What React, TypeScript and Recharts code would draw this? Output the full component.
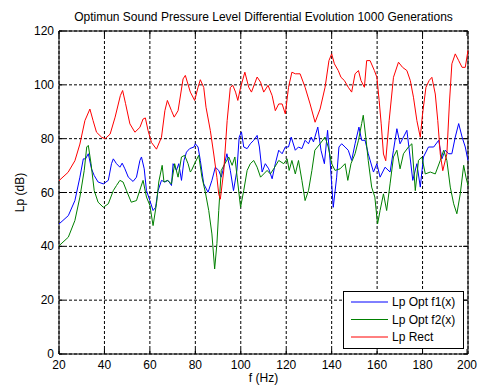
import React from 'react';
import { LineChart, Line, XAxis, YAxis, CartesianGrid, ReferenceArea } from 'recharts';

const titleText = 'Optimun Sound Pressure Level Differential Evolution 1000 Generations';
const xLabel = 'f (Hz)';
const yLabel = 'Lp (dB)';
const seriesNames = ['Lp Opt f1(x)', 'Lp Opt f2(x)', 'Lp Rect'];
const seriesColors = ['#0000ff', '#008000', '#ff0000'];
const xTicks = [20, 40, 60, 80, 100, 120, 140, 160, 180, 200];
const yTicks = [0, 20, 40, 60, 80, 100, 120];

// [frequency Hz, level dB]
const blueCurve: [number, number][] = [
  [20, 48.3], [24.1, 51.4], [27, 57], [29.2, 65.7], [30.7, 72.5], [31.7, 72.5], [32.9, 74.4], [34.3, 68.8],
  [35.5, 66.3], [37.2, 63.9], [39.5, 63.2], [41.7, 64.5], [43.1, 70.7], [43.9, 72.5], [45.3, 70.7], [46.8, 69.4],
  [47.8, 70.9], [49, 68.8], [50.5, 65.7], [52.6, 64.1], [54.1, 65.7], [55.6, 71.9], [56.3, 73.2], [57.5, 68.8],
  [58.5, 60.7], [60, 57], [61.4, 53.3], [62.5, 54.5], [63.6, 60.7], [65.1, 64.5], [66.6, 63.9], [68, 64.5],
  [69.5, 62.6], [70.2, 70.7], [71.7, 68.2], [72.7, 70.7], [73.9, 64.5], [75, 71.9], [76.1, 75], [77.5, 76.3],
  [79.4, 76.9], [80, 78.1], [81.2, 76.9], [82.2, 71.9], [83.7, 63.2], [85.6, 60.1], [87.3, 64.5], [88.8, 69.4],
  [90.3, 68.2], [91.4, 65.7], [92.5, 69.4], [93.9, 74.4], [95.4, 68.2], [96.8, 60.7], [98.3, 68.2], [99.3, 80.6],
  [100.3, 82.5], [101.3, 76.9], [102.8, 76.3], [104.2, 78.1], [105.7, 79.4], [107.2, 81.2], [108.2, 76.9], [109.4, 67.6],
  [110.8, 70.7], [112.3, 68.8], [113.8, 65.1], [115.2, 70.7], [116.7, 75.7], [118.2, 74.4], [119.6, 76.9], [121, 76.9],
  [122.2, 80.6], [124, 75.7], [125.4, 76.9], [126.9, 76.3], [128.3, 79.4], [129.8, 78.1], [131, 80.6], [132, 78.8],
  [133.9, 84.3], [135.3, 75.7], [136.8, 70.7], [138.2, 83.1], [139.3, 71.9], [140.7, 54.5], [142.2, 65.7], [143.2, 76.9],
  [144.4, 78.1], [145.9, 76.9], [147.3, 75.7], [148.8, 71.9], [150.3, 78.1], [152, 84.3], [153.2, 79.4], [154.7, 79.4],
  [156.1, 74.4], [158.4, 67.6], [159.9, 70.7], [161.3, 65.7], [163.5, 69.4], [165.7, 67.6], [167.2, 75.7], [168.7, 83.7],
  [170.1, 78.1], [171.6, 80.6], [173.1, 83.1], [174.5, 73.2], [175.7, 64.5], [177.5, 70.7], [179, 62], [180.4, 73.2],
  [182.6, 76.9], [184.9, 76.9], [187.1, 79.4], [188.5, 72.5], [190, 75.7], [191.5, 74.4], [192.9, 74.4], [194.4, 80.6],
  [195.9, 85.6], [197.4, 80.6], [198.8, 76.9], [200, 71.9],
];

const greenCurve: [number, number][] = [
  [20, 40.2], [24.1, 43.4], [27, 49.6], [29.2, 58.3], [31.1, 68.2], [32.2, 76.9], [32.9, 77.5], [34.1, 70.7],
  [35.5, 60.7], [37.2, 56.4], [39.5, 54.5], [41.7, 55.8], [43.9, 60.7], [45.3, 62.6], [46.8, 64.5], [48.2, 63.9],
  [49.7, 60.7], [51.8, 56.4], [54.1, 57], [56, 62], [57, 64.5], [58.5, 58.3], [60, 55.2], [61.4, 47.7],
  [62.9, 55.8], [63.9, 63.9], [65.4, 70.1], [66.2, 63.9], [67.7, 64.5], [69.5, 63.2], [70.9, 70.7], [72.4, 65.7],
  [73.9, 73.2], [75.3, 73.8], [76.8, 70.7], [77.8, 67.6], [78.3, 68.2], [80, 71.3], [81.5, 73.8], [82.9, 65.7],
  [84.4, 60.1], [85.9, 53.3], [87.3, 44.6], [88.5, 31.6], [89.5, 41], [90.3, 53.3], [91.4, 68.2], [93, 70.7],
  [94.7, 73.2], [96.2, 70.1], [97.4, 73.2], [98.4, 65.7], [99.9, 54.5], [101.3, 60.7], [102.8, 68.2], [104.2, 70.7],
  [105.7, 71.9], [107.2, 69.4], [108.7, 65.7], [110.1, 66.9], [111.6, 68.2], [113, 66.9], [114.5, 68.8], [116.7, 71.9],
  [118.9, 70.7], [120.4, 72.5], [121.3, 68.2], [122.5, 71.9], [124, 66.9], [125.4, 71.9], [126.9, 64.5], [128.3, 57],
  [129.8, 60.7], [131.3, 68.2], [132.6, 75.7], [134.9, 78.1], [137.1, 80.6], [138.5, 76.9], [140, 70.7], [141.5, 68.2],
  [143.7, 68.8], [145.9, 70.7], [147.1, 64.5], [148.5, 70.7], [150.3, 74.4], [151.8, 79.4], [153.2, 85.6], [153.9, 88.7],
  [155, 80.6], [156.1, 71.9], [157.6, 62], [159, 58.3], [160.2, 48.3], [161.3, 53.3], [162.8, 59.5], [164.2, 53.3],
  [165.7, 63.2], [167.2, 73.2], [168.7, 75.7], [170.1, 68.8], [171.6, 74.4], [173.8, 76.9], [175.3, 78.1], [176.8, 60.7],
  [178.2, 71.9], [179.7, 73.2], [181.2, 66.9], [183.4, 67.6], [185.6, 66.9], [187.8, 71.9], [189.3, 75.7], [190.7, 71.9],
  [192.2, 62], [193.7, 55.8], [195.1, 52.1], [196.6, 59.5], [198.1, 70.1], [199.1, 65.7], [200, 62.6],
];

const redCurve: [number, number][] = [
  [20, 64.4], [24, 67.5], [27, 71.8], [29.2, 78], [31.4, 86.7], [33.6, 91], [35, 86.7], [36.5, 82.4],
  [38.8, 80.5], [40.3, 80], [42.5, 81.7], [44.7, 88], [47, 96], [48, 97.9], [49.3, 93], [51.2, 85.5],
  [53.4, 82.4], [55.6, 84.2], [57, 87.3], [58, 87.7], [59.2, 83], [60.7, 78.6], [62.9, 76.1], [65.1, 80.5],
  [66.6, 90.4], [67.7, 94.2], [69.5, 90.4], [70.7, 88], [72.4, 90.4], [74.6, 102.2], [75.6, 103.5], [77.8, 97.3],
  [79.7, 94.2], [81.2, 99.1], [82.2, 101.9], [83.7, 99], [84.7, 91.7], [86.6, 83], [88.1, 74.3], [89.5, 65.6],
  [90.3, 59.4], [91, 57.5], [92.5, 68], [94, 86.7], [95.4, 99], [96.5, 99.8], [97.7, 97.3], [98.7, 94.2],
  [99.9, 99], [101.8, 104.7], [103.5, 99.1], [104.7, 97.3], [107.2, 102.9], [108.7, 101], [110.1, 97.3], [112, 99.8],
  [113.8, 96], [115.2, 90.4], [116.7, 92.9], [118.2, 92.9], [119.6, 89.2], [121, 99], [122.5, 104.7], [124, 104.1],
  [126.1, 104.1], [128.3, 99.1], [130.5, 92.9], [132.7, 86.1], [134.9, 91], [137.1, 99.1], [138.8, 109], [140, 111.5],
  [141.2, 107.8], [142.9, 105.3], [144.1, 102.8], [145.6, 101.6], [147.3, 99.1], [148.8, 97.3], [150.3, 104.1], [151.8, 105.3],
  [152.9, 101.6], [154.4, 99.1], [155.4, 109], [156.9, 109], [158.8, 105.3], [159.9, 102.8], [160.9, 94.2], [161.8, 85.5],
  [162.8, 74.3], [163.8, 71.8], [165.3, 86.7], [167.2, 102.8], [169.4, 108.4], [171.2, 106.5], [173.1, 105.3], [174.6, 101.6],
  [176, 95.4], [177.5, 86.7], [179, 80.5], [180, 89.2], [181.5, 99.1], [182.9, 101.6], [184.1, 102.8], [185.6, 96.6],
  [186.7, 86.7], [187.8, 74.3], [188.9, 68.1], [190.7, 74.3], [191.8, 92.9], [192.9, 107.8], [194.4, 111.5], [195.9, 109],
  [197.4, 106.5], [198.8, 106.5], [200, 112.8],
];

const toRows = (pts: [number, number][]) => pts.map(([f, lp]) => ({ f, lp }));
const curves = [toRows(blueCurve), toRows(greenCurve), toRows(redCurve)];

const W = 479;
const H = 388;
const PL = 59;
const PR = 468;
const PT = 31;
const PB = 354;
const FONT = '"Liberation Sans", Arial, sans-serif';
const FS = 12;

const XTick = (props: any) => {
  const { x, payload } = props;
  return (
    <g>
      <line x1={x} x2={x} y1={PB} y2={PB - 5} stroke="#000" strokeWidth={1} />
      <line x1={x} x2={x} y1={PT} y2={PT + 5} stroke="#000" strokeWidth={1} />
      <text x={x} y={PB + 15} textAnchor="middle" fontSize={FS} fontFamily={FONT} fill="#000">
        {payload.value}
      </text>
    </g>
  );
};

const YTick = (props: any) => {
  const { y, payload } = props;
  return (
    <g>
      <line x1={PL} x2={PL + 5} y1={y} y2={y} stroke="#000" strokeWidth={1} />
      <line x1={PR} x2={PR - 5} y1={y} y2={y} stroke="#000" strokeWidth={1} />
      <text x={PL - 5} y={y + 4} textAnchor="end" fontSize={FS} fontFamily={FONT} fill="#000">
        {payload.value}
      </text>
    </g>
  );
};

export default function App() {
  return (
    <div style={{ position: 'absolute', left: 0, top: 0, width: W, height: H, background: '#fff' }}>
      <LineChart width={W} height={H} margin={{ top: PT, right: W - PR, bottom: 0, left: 0 }}>
        <CartesianGrid stroke="#000" strokeDasharray="3 2" strokeWidth={1} />
        <XAxis
          dataKey="f"
          type="number"
          domain={[20, 200]}
          ticks={xTicks}
          height={H - PB}
          axisLine={false}
          tickLine={false}
          tick={<XTick />}
          allowDuplicatedCategory={false}
        />
        <YAxis
          type="number"
          domain={[0, 120]}
          ticks={yTicks}
          width={PL}
          axisLine={false}
          tickLine={false}
          tick={<YTick />}
        />
        <ReferenceArea x1={20} x2={200} y1={0} y2={120} fill="#fff" fillOpacity={0} stroke="#000" strokeWidth={1} />
        {curves.map((rows, i) => (
          <Line
            key={seriesNames[i]}
            data={rows}
            dataKey="lp"
            name={seriesNames[i]}
            type="linear"
            stroke={seriesColors[i]}
            strokeWidth={1}
            dot={false}
            activeDot={false}
            isAnimationActive={false}
          />
        ))}
      </LineChart>
      <svg width={W} height={H} style={{ position: 'absolute', left: 0, top: 0, pointerEvents: 'none' }}>
        <text x={(PL + PR) / 2} y={21} textAnchor="middle" fontSize={FS} fontFamily={FONT} fill="#000">
          {titleText}
        </text>
        <text x={(PL + PR) / 2} y={382} textAnchor="middle" fontSize={FS} fontFamily={FONT} fill="#000">
          {xLabel}
        </text>
        <text
          x={24}
          y={(PT + PB) / 2}
          textAnchor="middle"
          fontSize={FS}
          fontFamily={FONT}
          fill="#000"
          transform={`rotate(-90 24 ${(PT + PB) / 2})`}
        >
          {yLabel}
        </text>
        <rect x={343.5} y={291.5} width={120} height={57} fill="#fff" stroke="#000" strokeWidth={1} />
        {seriesNames.map((name, i) => (
          <g key={name}>
            <line x1={351} x2={388} y1={302 + i * 17.5} y2={302 + i * 17.5} stroke={seriesColors[i]} strokeWidth={1} />
            <text x={392} y={306 + i * 17.5} fontSize={FS} fontFamily={FONT} fill="#000">
              {name}
            </text>
          </g>
        ))}
      </svg>
    </div>
  );
}
